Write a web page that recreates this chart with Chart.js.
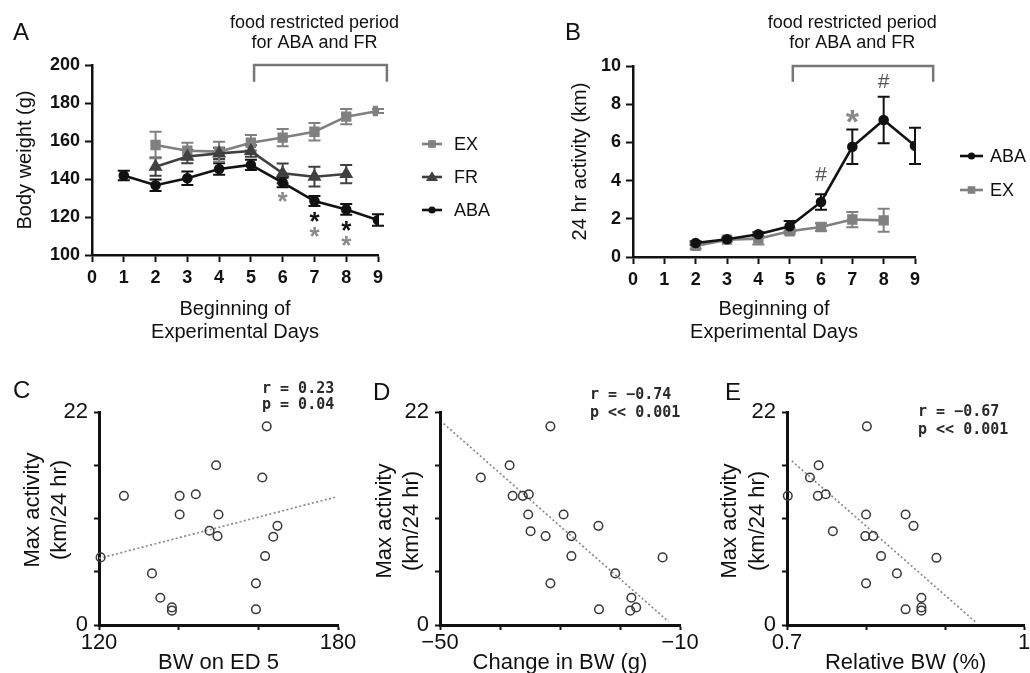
<!DOCTYPE html>
<html><head><meta charset="utf-8">
<script src="https://cdn.jsdelivr.net/npm/chart.js@4.4.1/dist/chart.umd.min.js"></script>
<style>
html,body{margin:0;padding:0;background:#fff;}
#wrap{position:relative;width:1030px;height:673px;overflow:hidden;background:#fff;}
canvas{position:absolute;}
</style></head><body>
<div id="wrap">
<canvas id="cA" width="505" height="345" style="left:0;top:0"></canvas>
<canvas id="cB" width="525" height="345" style="left:505px;top:0"></canvas>
<canvas id="cC" width="380" height="340" style="left:0;top:345px"></canvas>
<canvas id="cD" width="380" height="340" style="left:345px;top:345px"></canvas>
<canvas id="cE" width="340" height="340" style="left:690px;top:345px"></canvas>
</div>
<script>
// ---------------- DATA ----------------
// Panel A: body weight (g)
const abaDaysA = [1,2,3,4,5,6,7,8,9];
const abaWeight = [141.8,136.7,140.4,145.3,147.4,138.1,128.4,124.0,118.4];
const abaWeightErr = [2.5,3.0,3.5,3.0,2.7,2.5,2.6,2.8,3.0];
const exDaysA = [2,3,4,5,6,7,8,9];
const exWeight = [157.9,154.9,154.4,159.1,161.8,164.9,172.8,175.8];
const exWeightErr = [7.0,4.2,5.2,4.1,4.5,4.6,4.0,1.0];
const frDaysA = [2,3,4,5,6,7,8];
const frWeight = [146.5,151.8,153.5,154.7,143.0,141.2,142.6];
const frWeightErr = [4.8,3.5,3.0,3.0,5.2,5.2,4.8];
const aStarDays = [6,7,7,8,8];
const aStarLevels = [130.5,120.0,112.1,115.3,107.4];
const aStarTone = ['gray','black','gray','black','gray'];
const aRestrict = [5.1, 9.28];
// Panel B: 24 hr activity (km)
const abaDaysB = [2,3,4,5,6,7,8,9];
const abaAct = [0.73,0.93,1.19,1.61,2.88,5.77,7.17,5.82];
const abaActErr = [0.10,0.08,0.10,0.28,0.40,0.90,1.22,0.95];
const exDaysB = [2,3,4,5,6,7,8];
const exAct = [0.58,0.91,0.96,1.35,1.57,1.96,1.92];
const exActErr = [0.15,0.08,0.30,0.15,0.20,0.40,0.60];
const bMarkDays = [6,7,8];
const bMarkLevels = [4.37,7.38,9.21];
const bMarkText = ['#','*','#'];
const bRestrict = [5.1, 9.58];
// Tick labels / text
const xTitleLines = ['Beginning of','Experimental Days'];
const restrictText = ['food restricted period','for ABA and FR'];
const scatterYTitle = ['Max activity','(km/24 hr)'];
const scatterYLabels = [0, 22];
// Panel C
const cBw = [120.4,126.25,133.3,135.4,138.3,138.3,140.25,140.25,144.3,147.75,149.4,149.75,150.0,159.4,159.4,161.0,161.7,162.1,163.75,164.8];
const cAct = [6.98,13.34,5.33,2.82,1.82,1.48,13.34,11.41,13.51,9.73,16.5,9.18,11.41,4.30,1.62,15.23,7.12,20.52,9.11,10.24];
const cFitX = [120, 179.6];
const cFitY = [6.88, 13.23];
const cXLabelVals = [120, 180];
const cXLabelText = ['120','180'];
const cStats = ['r = 0.23','p = 0.04'];
// Panel D
const dChange = [-43.2,-38.4,-37.9,-36.2,-35.2,-35.3,-34.9,-32.4,-31.6,-31.6,-29.4,-28.1,-28.1,-23.6,-23.5,-20.8,-18.3,-18.1,-17.3,-12.9];
const dAct = [15.23,16.5,13.34,13.34,13.51,11.41,9.69,9.18,20.52,4.30,11.41,9.18,7.12,10.24,1.62,5.33,1.48,2.82,1.82,6.98];
const dFitX = [-49.4, -11.9];
const dFitY = [20.8, 0.34];
const dXLabelVals = [-50, -10];
const dXLabelText = ['\u221250','\u221210'];
const dStats = ['r = \u22120.74','p << 0.001'];
// Panel E
const eRel = [0.701,0.729,0.740,0.739,0.749,0.758,0.801,0.800,0.799,0.809,0.819,0.800,0.839,0.850,0.860,0.870,0.870,0.870,0.850,0.889];
const eAct = [13.34,15.23,16.5,13.34,13.51,9.69,20.52,11.41,9.18,9.18,7.12,4.30,5.33,11.41,10.24,2.82,1.82,1.48,1.62,6.94];
const eFitX = [0.706, 0.938];
const eFitY = [16.95, 0.34];
const eXLabelVals = [0.7, 1.0];
const eXLabelText = ['0.7','1'];
const eStats = ['r = \u22120.67','p << 0.001'];

// ---------------- STYLE ----------------
const FONT = '"Liberation Sans", Arial, Helvetica, sans-serif';
const MONO = '"DejaVu Sans Mono", "Liberation Mono", monospace';
const INK = '#111111', EXC = '#808080', FRC = '#404040', GRAYSTAR = '#8a8a8a';
Chart.defaults.font.family = FONT;
Chart.defaults.color = INK;
Chart.defaults.animation = false;
Chart.defaults.events = [];
Chart.defaults.plugins.legend.display = false;
Chart.defaults.plugins.tooltip.enabled = false;

function pts(xs, ys){ return xs.map((x,i)=>({x:x, y:ys[i]})); }
function fixY(w){ return s => { s.width = w; s.paddingTop = 0; s.paddingBottom = 0; }; }
function fixX(h){ return s => { s.height = h; s.paddingLeft = 0; s.paddingRight = 0; }; }

function centeredText(ctx, text, x, cy){
  const m = ctx.measureText(text);
  ctx.textBaseline = 'alphabetic';
  ctx.fillText(text, x, cy + (m.actualBoundingBoxAscent - m.actualBoundingBoxDescent)/2);
}
function marker(ctx, style, x, y, r, color){
  ctx.fillStyle = color; ctx.beginPath();
  if (style === 'rect') ctx.rect(x-r, y-r, 2*r, 2*r);
  else if (style === 'triangle'){ ctx.moveTo(x, y-r*1.15); ctx.lineTo(x+r*1.2, y+r*0.8); ctx.lineTo(x-r*1.2, y+r*0.8); ctx.closePath(); }
  else ctx.arc(x, y, r, 0, Math.PI*2);
  ctx.fill();
}
function drawLegend(ctx, items, x1, x2, tx){
  ctx.save();
  ctx.font = '18px ' + FONT; ctx.textAlign = 'left'; ctx.textBaseline = 'middle';
  items.forEach(it => {
    ctx.strokeStyle = it.color; ctx.lineWidth = 2.6;
    ctx.beginPath(); ctx.moveTo(x1, it.y); ctx.lineTo(x2, it.y); ctx.stroke();
    marker(ctx, it.style, (x1+x2)/2, it.y, it.r, it.color);
    ctx.fillStyle = INK; ctx.fillText(it.label, tx, it.y + 1);
  });
  ctx.restore();
}
function drawBracket(ctx, xs, ys, range, top, drop){
  const x1 = xs.getPixelForValue(range[0]), x2 = xs.getPixelForValue(range[1]);
  const yT = ys.getPixelForValue(top), yB = ys.getPixelForValue(drop);
  ctx.save(); ctx.strokeStyle = '#777'; ctx.lineWidth = 2.5; ctx.lineJoin = 'miter';
  ctx.beginPath(); ctx.moveTo(x1, yB); ctx.lineTo(x1, yT); ctx.lineTo(x2, yT); ctx.lineTo(x2, yB); ctx.stroke();
  ctx.restore();
}
function drawRestrictText(ctx, x){
  ctx.save(); ctx.fillStyle = INK; ctx.font = '18px ' + FONT; ctx.textAlign = 'center'; ctx.textBaseline = 'middle';
  ctx.fillText(restrictText[0], x, 23.5); ctx.fillText(restrictText[1], x, 43.5);
  ctx.restore();
}
function drawLetter(ctx, t, x, y){
  ctx.save(); ctx.fillStyle = INK; ctx.font = '24px ' + FONT; ctx.textAlign = 'left'; ctx.textBaseline = 'alphabetic';
  ctx.fillText(t, x, y); ctx.restore();
}

const errorBars = {
  id: 'errorBars',
  beforeDatasetsDraw(chart){
    const ctx = chart.ctx, xs = chart.scales.x, ys = chart.scales.y;
    chart.data.datasets.forEach(ds => {
      if (!ds.errors) return;
      ctx.save(); ctx.strokeStyle = ds.borderColor; ctx.lineWidth = 2;
      ds.data.forEach((p, j) => {
        const e = ds.errors[j], x = xs.getPixelForValue(p.x);
        const y1 = ys.getPixelForValue(p.y + e), y2 = ys.getPixelForValue(p.y - e);
        ctx.beginPath();
        ctx.moveTo(x, y1); ctx.lineTo(x, y2);
        ctx.moveTo(x-6, y1); ctx.lineTo(x+6, y1);
        ctx.moveTo(x-6, y2); ctx.lineTo(x+6, y2);
        ctx.stroke();
      });
      ctx.restore();
    });
  }
};

function lineScales(o){
  const grid = {drawOnChartArea:false, drawTicks:true, tickLength:7, tickWidth:2, tickColor:INK};
  const border = {display:true, width:2.5, color:INK};
  const tickFont = {size:18, weight:'bold'};
  return {
    x: { type:'linear', min:0, max:9,
         ticks:{stepSize:1, autoSkip:false, maxRotation:0, padding:5, color:INK, font:tickFont},
         grid:grid, border:border,
         title:{display:true, text:xTitleLines, color:INK, font:{size:20, lineHeight:1.15}, padding:{top:0, bottom:1}},
         afterFit: fixX(o.xH) },
    y: { type:'linear', min:o.min, max:o.max,
         ticks:{stepSize:o.step, autoSkip:false, padding:5, color:INK, font:tickFont},
         grid:grid, border:border,
         title:{display:true, text:o.yTitle, color:INK, font:{size:20}, padding:{top:13, bottom:0}},
         afterFit: fixY(o.yW) }
  };
}
function seriesDs(xs, ys, errs, color, style, r, order){
  return { type:'line', data: pts(xs, ys), errors: errs, borderColor: color, backgroundColor: color,
           pointBackgroundColor: color, pointBorderColor: color, pointStyle: style, pointRadius: r,
           borderWidth: 2.6, tension: 0, fill: false, order: order };
}

// ---------------- PANEL A ----------------
new Chart(document.getElementById('cA'), {
  type: 'line',
  data: { datasets: [
    seriesDs(abaDaysA, abaWeight, abaWeightErr, INK, 'circle', 4, 0),
    seriesDs(frDaysA, frWeight, frWeightErr, FRC, 'triangle', 5.5, 1),
    seriesDs(exDaysA, exWeight, exWeightErr, EXC, 'rect', 5.5, 2)
  ]},
  options: {
    responsive:false, devicePixelRatio:1,
    layout:{padding:{left:0, top:65, right:127, bottom:0}},
    scales: lineScales({min:100, max:200, step:20, yTitle:'Body weight (g)', xH:90, yW:92})
  },
  plugins: [errorBars, {
    id:'decoA',
    afterDraw(chart){
      const ctx = chart.ctx, xs = chart.scales.x, ys = chart.scales.y;
      drawBracket(ctx, xs, ys, aRestrict, 200, 191.2);
      drawRestrictText(ctx, xs.getPixelForValue(7));
      ctx.save(); ctx.font = 'bold 26px ' + FONT; ctx.textAlign = 'center';
      aStarDays.forEach((d, i) => {
        ctx.fillStyle = aStarTone[i] === 'gray' ? GRAYSTAR : INK;
        centeredText(ctx, '*', xs.getPixelForValue(d), ys.getPixelForValue(aStarLevels[i]));
      });
      ctx.restore();
      drawLegend(ctx, [
        {label:'EX', color:EXC, style:'rect', r:3.8, y:144},
        {label:'FR', color:FRC, style:'triangle', r:5, y:177},
        {label:'ABA', color:INK, style:'circle', r:3.6, y:210}
      ], 422, 442, 454);
      drawLetter(ctx, 'A', 13, 40);
    }
  }]
});

// ---------------- PANEL B ----------------
new Chart(document.getElementById('cB'), {
  type: 'line',
  data: { datasets: [
    seriesDs(abaDaysB, abaAct, abaActErr, INK, 'circle', 4, 0),
    seriesDs(exDaysB, exAct, exActErr, EXC, 'rect', 5.5, 1)
  ]},
  options: {
    responsive:false, devicePixelRatio:1,
    layout:{padding:{left:50, top:66, right:115, bottom:0}},
    scales: lineScales({min:0, max:10, step:2, yTitle:'24 hr activity (km)', xH:88, yW:78})
  },
  plugins: [errorBars, {
    id:'decoB',
    afterDraw(chart){
      const ctx = chart.ctx, xs = chart.scales.x, ys = chart.scales.y;
      drawBracket(ctx, xs, ys, bRestrict, 10, 9.18);
      drawRestrictText(ctx, xs.getPixelForValue(7));
      ctx.save(); ctx.textAlign = 'center';
      bMarkDays.forEach((d, i) => {
        if (bMarkText[i] === '*'){ ctx.font = 'bold 34px ' + FONT; ctx.fillStyle = GRAYSTAR; }
        else { ctx.font = '21px ' + FONT; ctx.fillStyle = '#555'; }
        centeredText(ctx, bMarkText[i], xs.getPixelForValue(d), ys.getPixelForValue(bMarkLevels[i]));
      });
      ctx.restore();
      drawLegend(ctx, [
        {label:'ABA', color:INK, style:'circle', r:3.6, y:156},
        {label:'EX', color:EXC, style:'rect', r:3.8, y:190}
      ], 455, 478, 485);
      drawLetter(ctx, 'B', 60, 40);
    }
  }]
});

// ---------------- SCATTER PANELS ----------------
function scatterPanel(id, xv, yv, fx, fy, o){
  const grid = {drawOnChartArea:false, drawTicks:true, tickLength:5, tickWidth:2, tickColor:INK};
  const border = {display:true, width:3, color:INK};
  const labelFor = v => {
    for (let i = 0; i < o.xLabelVals.length; i++) if (Math.abs(v - o.xLabelVals[i]) < 1e-6) return o.xLabelText[i];
    return '';
  };
  return new Chart(document.getElementById(id), {
    type: 'scatter',
    data: { datasets: [
      { type:'line', data: pts(fx, fy), borderColor:'#8a8a8a', borderWidth:1.7, borderDash:[2,2.4],
        pointRadius:0, fill:false, order:1, clip:false },
      { data: pts(xv, yv), pointStyle:'circle', pointRadius:4.3, borderWidth:1.5,
        borderColor:'#383838', backgroundColor:'rgba(0,0,0,0)', order:0, clip:false }
    ]},
    options: {
      responsive:false, devicePixelRatio:1,
      layout:{padding:{left:o.padL, top:67, right:o.padR, bottom:0}},
      scales: {
        x: { type:'linear', min:o.min, max:o.max,
             ticks:{stepSize:o.step, autoSkip:false, maxRotation:0, padding:2, color:INK, font:{size:22, lineHeight:1}, callback: labelFor},
             grid:grid, border:border,
             title:{display:true, text:o.xTitle, color:INK, font:{size:22, lineHeight:1.2}, padding:{top:0, bottom:9}},
             afterFit: fixX(60) },
        y: { type:'linear', min:0, max:22,
             ticks:{stepSize:5.5, autoSkip:false, padding:6, color:INK, font:{size:22},
                    callback: v => scatterYLabels.indexOf(v) >= 0 ? String(v) : ''},
             grid:grid, border:border,
             afterFit: fixY(40) }
      }
    },
    plugins: [{
      id:'deco' + id,
      afterDraw(chart){
        const ctx = chart.ctx;
        ctx.save();
        ctx.fillStyle = INK; ctx.font = '22px ' + FONT; ctx.textAlign = 'center'; ctx.textBaseline = 'middle';
        ctx.translate(o.yt[0], o.yt[2]); ctx.rotate(-Math.PI/2);
        ctx.fillText(scatterYTitle[0], 0, 0);
        ctx.fillText(scatterYTitle[1], 0, o.yt[1] - o.yt[0]);
        ctx.restore();
        ctx.save();
        ctx.fillStyle = '#2a2a2a'; ctx.font = 'bold 15px ' + MONO; ctx.textAlign = 'left'; ctx.textBaseline = 'middle';
        ctx.fillText(o.stats[0], o.st[0], o.st[1]);
        ctx.fillText(o.stats[1], o.st[0], o.st[2]);
        ctx.restore();
        drawLetter(ctx, o.letter, o.lt[0], o.lt[1]);
      }
    }]
  });
}

scatterPanel('cC', cBw, cAct, cFitX, cFitY, {
  min:120, max:180, step:20, xTitle:'BW on ED 5', xLabelVals:cXLabelVals, xLabelText:cXLabelText,
  padL:59, padR:42, yt:[33, 60, 165], stats:cStats, st:[262, 44.5, 60], letter:'C', lt:[13, 53]
});
scatterPanel('cD', dChange, dAct, dFitX, dFitY, {
  min:-50, max:-10, step:10, xTitle:'Change in BW (g)', xLabelVals:dXLabelVals, xLabelText:dXLabelText,
  padL:55, padR:45, yt:[40, 67, 176], stats:dStats, st:[245, 50, 68], letter:'D', lt:[28, 55]
});
scatterPanel('cE', eRel, eAct, eFitX, eFitY, {
  min:0.7, max:1.0, step:0.1, xTitle:'Relative BW (%)', xLabelVals:eXLabelVals, xLabelText:eXLabelText,
  padL:57, padR:3, yt:[40, 68, 176], stats:eStats, st:[228, 67, 85], letter:'E', lt:[35, 55]
});
</script>
</body></html>
